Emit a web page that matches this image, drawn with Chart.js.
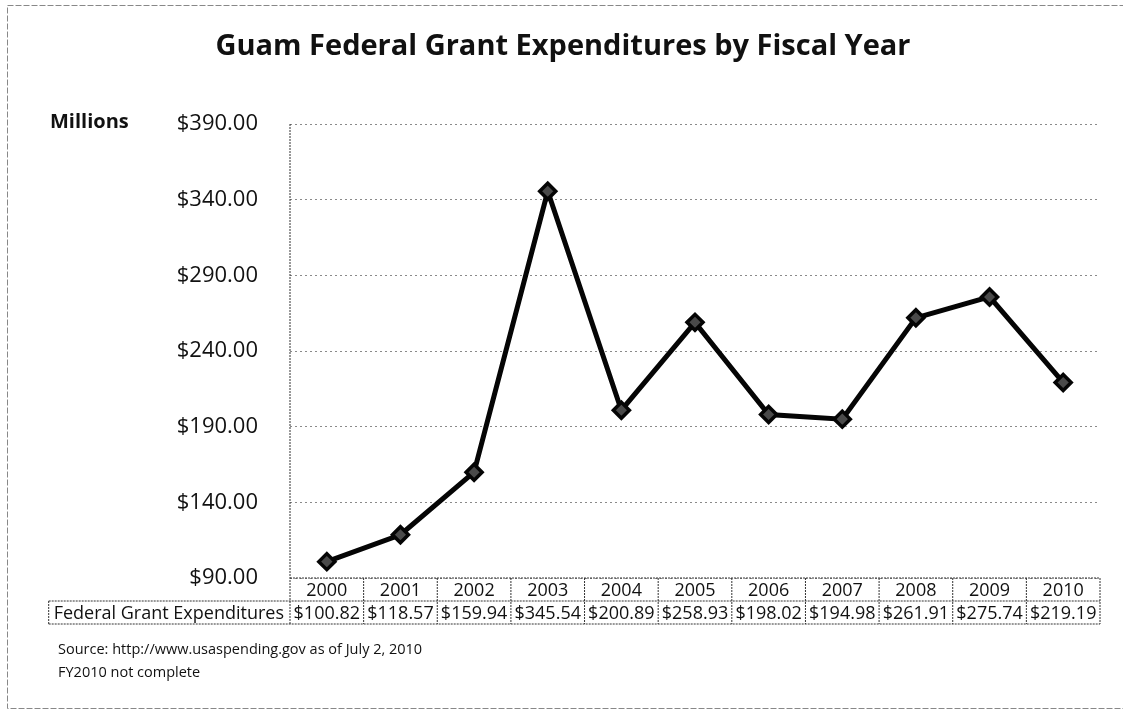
<!DOCTYPE html>
<html>
<head>
<meta charset="utf-8">
<title>Guam Federal Grant Expenditures by Fiscal Year</title>
<script src="https://cdn.jsdelivr.net/npm/chart.js@4/dist/chart.umd.min.js"></script>
<style>
  html, body { margin: 0; padding: 0; background: #fff; }
  #wrap { width: 1123px; height: 713px; }
</style>
</head>
<body>
<div id="wrap"><canvas id="grafico"></canvas></div>
<script>
// dados
const fiscalYears = ["2000", "2001", "2002", "2003", "2004", "2005", "2006", "2007", "2008", "2009", "2010"];
const grantExpenditures = [100.82, 118.57, 159.94, 345.54, 200.89, 258.93, 198.02, 194.98, 261.91, 275.74, 219.19];
const yTicks = [90, 140, 190, 240, 290, 340, 390];
const seriesLabel = "Federal Grant Expenditures";
const unitLabel = "Millions";
const sourceLines = ["Source: http://www.usaspending.gov as of July 2, 2010", "FY2010 not complete"];

const FONT = "'Open Sans', sans-serif";
const money = (v) => "$" + v.toFixed(2);

// linha pontilhada simples
const dotted = (ctx, x1, y1, x2, y2, color, dash) => {
  ctx.save();
  ctx.strokeStyle = color;
  ctx.lineWidth = 1;
  ctx.setLineDash(dash);
  ctx.beginPath();
  ctx.moveTo(x1, y1);
  ctx.lineTo(x2, y2);
  ctx.stroke();
  ctx.restore();
};

// tabela de dados embaixo do gráfico + textos soltos
const dataTablePlugin = {
  id: "dataTable",
  beforeDatasetsDraw(chart) {
    const { ctx, chartArea: area, scales } = chart;
    const x = scales.x;
    const cw = x.getPixelForValue(1) - x.getPixelForValue(0);
    const rowH = 23;
    const top = area.bottom;
    const mid = top + rowH;
    const bot = top + 2 * rowH;
    const lineColor = "#333";
    const dash = [2, 1];

    ctx.save();
    ctx.font = "18px " + FONT;
    const labelLeft = area.left - ctx.measureText(seriesLabel).width - 11;
    ctx.restore();

    // eixo y
    dotted(ctx, area.left, area.top, area.left, bot, lineColor, dash);
    // linhas horizontais
    dotted(ctx, area.left, top, area.right, top, lineColor, dash);
    dotted(ctx, labelLeft, mid, area.right, mid, lineColor, dash);
    dotted(ctx, labelLeft, bot, area.right, bot, lineColor, dash);
    dotted(ctx, labelLeft, mid, labelLeft, bot, lineColor, dash);
    // divisões das colunas
    fiscalYears.forEach((year, i) => {
      const xr = x.getPixelForValue(i) + cw / 2;
      dotted(ctx, xr, top, xr, bot, lineColor, dash);
    });

    ctx.save();
    ctx.fillStyle = "#111";
    ctx.textBaseline = "middle";
    ctx.font = "18px " + FONT;
    ctx.textAlign = "center";
    fiscalYears.forEach((year, i) => {
      const cx = x.getPixelForValue(i);
      ctx.fillText(year, cx, top + rowH / 2 + 1);
      ctx.fillText(money(grantExpenditures[i]), cx, mid + rowH / 2 + 1);
    });
    ctx.textAlign = "left";
    ctx.fillText(seriesLabel, labelLeft + 5, mid + rowH / 2 + 1);

    ctx.font = "14.5px " + FONT;
    ctx.fillText(sourceLines[0], 58, 650);
    ctx.fillText(sourceLines[1], 58, 673);

    ctx.font = "bold 20px " + FONT;
    ctx.fillText(unitLabel, 50, 122);

    // moldura tracejada
    ctx.strokeStyle = "#888";
    ctx.setLineDash([6, 2]);
    ctx.lineWidth = 1;
    ctx.strokeRect(7.5, 5.5, 1125, 703);
    ctx.restore();
  }
};

const ctx = document.getElementById("grafico");
new Chart(ctx.getContext("2d"), {
  type: "line",
  data: {
    labels: fiscalYears,
    datasets: [{
      label: seriesLabel,
      data: grantExpenditures,
      borderColor: "#050505",
      borderWidth: 5,
      pointStyle: "rectRot",
      pointRadius: 8,
      pointBorderWidth: 3.5,
      pointBackgroundColor: "#4a4a4a",
      pointBorderColor: "#050505",
      tension: 0,
    }],
  },
  options: {
    responsive: true,
    maintainAspectRatio: false,
    animation: false,
    layout: { padding: { top: 0, left: 26, right: 23, bottom: 135 } },
    plugins: {
      legend: { display: false },
      tooltip: { enabled: false },
      title: {
        display: true,
        text: "Guam Federal Grant Expenditures by Fiscal Year",
        color: "#111",
        font: { family: FONT, size: 29, weight: "bold", lineHeight: 1.2 },
        padding: { top: 29, bottom: 60.2 },
      },
    },
    scales: {
      x: { display: false, offset: true },
      y: {
        min: yTicks[0],
        max: yTicks[yTicks.length - 1],
        afterBuildTicks: (s) => { s.ticks = yTicks.map((v) => ({ value: v })); },
        afterFit: (s) => { s.width = 264; },
        border: { display: false, dash: [2, 3] },
        grid: { color: "#8a8a8a", drawTicks: false },
        ticks: {
          padding: 32,
          color: "#111",
          font: { family: FONT, size: 22 },
          callback: (v) => money(v),
        },
      },
    },
  },
  plugins: [dataTablePlugin],
});
</script>
</body>
</html>
